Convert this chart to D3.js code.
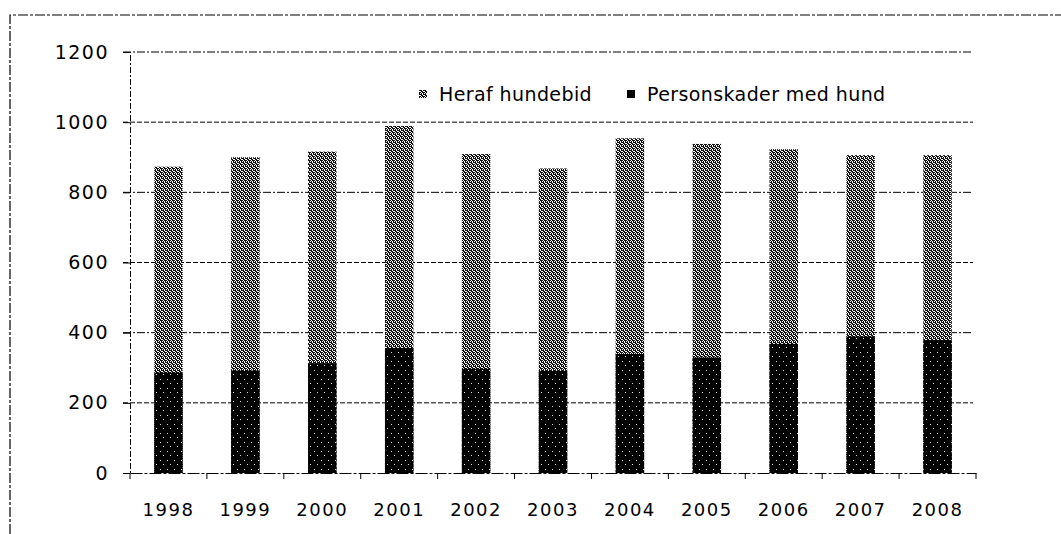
<!DOCTYPE html>
<html>
<head>
<meta charset="utf-8">
<script src="https://cdn.jsdelivr.net/npm/d3@7"></script>
<style>
  body { margin: 0; background: #fff; }
  svg { display: block; }
  text { font-family: "DejaVu Sans", sans-serif; fill: #000; }
</style>
</head>
<body>
<div id="chart"></div>
<script>
// data
var years = ["1998", "1999", "2000", "2001", "2002", "2003", "2004", "2005", "2006", "2007", "2008"];
var hundebid = [873, 900, 916, 989, 909, 868, 954, 938, 923, 906, 906];       // grey bar tops
var personskader = [286, 292, 313, 356, 297, 291, 339, 329, 368, 389, 379];  // black bar tops
var yTicks = [0, 200, 400, 600, 800, 1000, 1200];
var legendLabels = ["Heraf hundebid", "Personskader med hund"];

var width = 1061, height = 534,
  margin = {top: 52, right: 85, bottom: 61, left: 130},
  innerWidth = width - margin.left - margin.right,
  innerHeight = height - margin.top - margin.bottom;

var svg = d3.select("#chart").append("svg")
  .attr("width", width)
  .attr("height", height);

// fill patterns to imitate the dithered print
var defs = svg.append("defs");
var grey = defs.append("pattern")
  .attr("id", "greyfill")
  .attr("patternUnits", "userSpaceOnUse")
  .attr("width", 4).attr("height", 4);
grey.append("rect").attr("width", 4).attr("height", 4).attr("fill", "#fff");
[[0,0],[2,0],[3,0],[1,1],[3,1],[0,2],[1,2],[3,2],[1,3],[2,3]].forEach(function(p) {
  grey.append("rect").attr("x", p[0]).attr("y", p[1]).attr("width", 1).attr("height", 1).attr("fill", "#111");
});
var dark = defs.append("pattern")
  .attr("id", "darkfill")
  .attr("patternUnits", "userSpaceOnUse")
  .attr("width", 7).attr("height", 9);
dark.append("rect").attr("width", 7).attr("height", 9).attr("fill", "#000");
dark.append("rect").attr("x", 2).attr("y", 3).attr("width", 1).attr("height", 1).attr("fill", "#ddd");
dark.append("rect").attr("x", 5).attr("y", 7).attr("width", 1).attr("height", 1).attr("fill", "#ddd");

// outer frame (top and left edges visible)
svg.append("path")
  .attr("d", "M10,534 V15 H1061")
  .attr("fill", "none")
  .attr("stroke", "#000")
  .attr("stroke-width", 1.2)
  .attr("stroke-dasharray", "10,2,3,2");

var g = svg.append("g")
  .attr("transform", "translate(" + margin.left + "," + margin.top + ")");

var xScale = d3.scaleBand()
  .domain(years)
  .range([0, innerWidth])
  .paddingInner(0.63)
  .paddingOuter(0.315);

var yScale = d3.scaleLinear()
  .domain([0, 1200])
  .range([innerHeight, 0]);

// gridlines
g.append("g")
  .attr("class", "grid")
  .selectAll("line")
  .data(yTicks.filter(function(d) { return d > 0; }))
  .enter().append("line")
    .attr("x1", -7)
    .attr("x2", innerWidth - 3)
    .attr("y1", function(d) { return yScale(d); })
    .attr("y2", function(d) { return yScale(d); })
    .attr("stroke", "#000")
    .attr("stroke-width", 1)
    .attr("stroke-dasharray", function(d, i) { return i % 2 ? "8,2,2,2" : "5,2"; });

// y axis
var yAxis = g.append("g")
  .attr("class", "y axis")
  .call(d3.axisLeft(yScale).tickValues(yTicks).tickFormat(d3.format("d")).tickSize(7).tickPadding(14));
yAxis.select(".domain")
  .attr("stroke-dasharray", "6,2,2,2");
yAxis.selectAll("text")
  .style("font-size", "19px")
  .style("letter-spacing", "1.5px");

// bars: grey first, black over it
g.selectAll(".bar.hundebid")
  .data(hundebid)
  .enter().append("rect")
    .attr("class", "bar hundebid")
    .attr("x", function(d, i) { return xScale(years[i]); })
    .attr("width", xScale.bandwidth())
    .attr("y", function(d) { return yScale(d); })
    .attr("height", function(d) { return innerHeight - yScale(d); })
    .attr("fill", "url(#greyfill)");

g.selectAll(".bar.personskader")
  .data(personskader)
  .enter().append("rect")
    .attr("class", "bar personskader")
    .attr("x", function(d, i) { return xScale(years[i]); })
    .attr("width", xScale.bandwidth())
    .attr("y", function(d) { return yScale(d); })
    .attr("height", function(d) { return innerHeight - yScale(d); })
    .attr("fill", "url(#darkfill)");

// x axis, ticks sit between the categories
var xAxis = g.append("g")
  .attr("class", "x axis")
  .attr("transform", "translate(0," + innerHeight + ")")
  .call(d3.axisBottom(xScale).tickSize(0).tickPadding(30));
xAxis.select(".domain")
  .attr("stroke-dasharray", "12,2,3,2");
xAxis.selectAll("text")
  .style("font-size", "18px")
  .style("letter-spacing", "1.5px");
xAxis.selectAll(".sep")
  .data(d3.range(years.length + 1))
  .enter().append("line")
    .attr("class", "sep")
    .attr("x1", function(i) { return i * xScale.step(); })
    .attr("x2", function(i) { return i * xScale.step(); })
    .attr("y1", 0)
    .attr("y2", 6)
    .attr("stroke", "#000");

// legend
var legend = svg.append("g").attr("class", "legend");
var legendX = [423, 631];
legend.selectAll("rect")
  .data(legendLabels)
  .enter().append("rect")
    .attr("x", function(d, i) { return legendX[i] - 4; })
    .attr("y", 90)
    .attr("width", 8)
    .attr("height", 8)
    .attr("fill", function(d, i) { return i ? "#000" : "url(#greyfill)"; });
legend.selectAll("text")
  .data(legendLabels)
  .enter().append("text")
    .attr("x", function(d, i) { return legendX[i] + 16; })
    .attr("y", 101)
    .style("font-size", "19px")
    .style("letter-spacing", "0.4px")
    .text(function(d) { return d; });
</script>
</body>
</html>
